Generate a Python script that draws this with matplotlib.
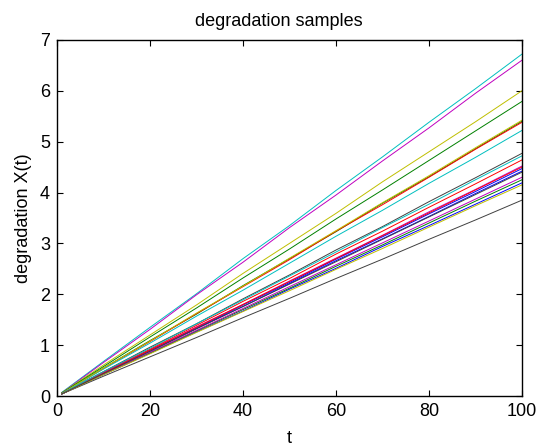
import numpy as np
import matplotlib
matplotlib.use('Agg')
import matplotlib.pyplot as plt

plt.rcParams['font.family'] = ['Liberation Sans', 'DejaVu Sans']

# sample times and degradation paths
t = [1, 10, 20, 30, 40, 50, 60, 70, 80, 90, 100]
paths = [
    [0.05, 0.46, 0.90, 1.33, 1.79, 2.23, 2.69, 3.13, 3.58, 4.02, 4.47],
    [0.06, 0.55, 1.09, 1.61, 2.17, 2.70, 3.23, 3.79, 4.31, 4.86, 5.40],
    [0.05, 0.54, 1.07, 1.62, 2.15, 2.68, 3.24, 3.76, 4.30, 4.85, 5.38],
    [0.07, 0.68, 1.35, 2.01, 2.70, 3.35, 4.04, 4.70, 5.38, 6.04, 6.72],
    [0.06, 0.66, 1.31, 1.99, 2.63, 3.31, 3.95, 4.62, 5.27, 5.95, 6.60],
    [0.06, 0.61, 1.20, 1.79, 2.41, 3.00, 3.59, 4.21, 4.80, 5.39, 6.00],
    [0.05, 0.48, 0.96, 1.42, 1.91, 2.38, 2.87, 3.33, 3.82, 4.29, 4.77],
    [0.04, 0.45, 0.88, 1.33, 1.76, 2.21, 2.66, 3.09, 3.53, 3.98, 4.42],
    [0.06, 0.58, 1.16, 1.73, 2.32, 2.89, 3.48, 4.05, 4.63, 5.21, 5.79],
    [0.05, 0.47, 0.92, 1.39, 1.86, 2.31, 2.79, 3.24, 3.71, 4.17, 4.64],
    [0.05, 0.53, 1.04, 1.57, 2.08, 2.61, 3.14, 3.65, 4.18, 4.69, 5.22],
    [0.04, 0.46, 0.90, 1.36, 1.80, 2.26, 2.71, 3.16, 3.62, 4.06, 4.52],
    [0.05, 0.55, 1.08, 1.63, 2.16, 2.71, 3.25, 3.80, 4.33, 4.88, 5.42],
    [0.04, 0.39, 0.77, 1.15, 1.54, 1.92, 2.31, 2.69, 3.08, 3.46, 3.85],
    [0.04, 0.42, 0.84, 1.26, 1.67, 2.10, 2.51, 2.94, 3.35, 3.77, 4.19],
    [0.04, 0.43, 0.85, 1.28, 1.70, 2.12, 2.55, 2.97, 3.40, 3.83, 4.25],
    [0.05, 0.45, 0.90, 1.35, 1.80, 2.25, 2.70, 3.15, 3.60, 4.05, 4.50],
    [0.05, 0.48, 0.94, 1.42, 1.89, 2.36, 2.83, 3.31, 3.77, 4.25, 4.72],
    [0.04, 0.43, 0.86, 1.29, 1.72, 2.15, 2.58, 3.01, 3.44, 3.87, 4.30],
    [0.04, 0.42, 0.83, 1.25, 1.66, 2.07, 2.49, 2.90, 3.32, 3.74, 4.15],
    [0.04, 0.44, 0.88, 1.32, 1.76, 2.20, 2.64, 3.08, 3.52, 3.96, 4.40],
]
# old matlab colour order b g r c m y k
colors = [(0, 0, 1), (0, 0.5, 0), (1, 0, 0), (0, 0.75, 0.75),
          (0.75, 0, 0.75), (0.75, 0.75, 0), (0.25, 0.25, 0.25)]

fig = plt.figure(figsize=(5.4, 4.48), dpi=100)
ax = fig.add_axes([0.1056, 0.116, 0.861, 0.795])

for i, p in enumerate(paths):
    ax.plot(t, p, color=colors[i % 7], lw=0.7)

ax.set_xlim(0, 100)
ax.set_ylim(0, 7)
ax.set_xticks([0, 20, 40, 60, 80, 100])
ax.set_yticks(range(8))
ax.tick_params(direction='in', top=True, right=True, length=4, width=0.8,
               labelsize=13, pad=5)
for s in ax.spines.values():
    s.set_linewidth(1.0)

ax.set_title('degradation samples', fontsize=13, x=0.478, pad=10)
ax.set_xlabel('t', fontsize=13, labelpad=7)
ax.set_ylabel('degradation X(t)', fontsize=13, labelpad=6)

fig.savefig('out.png', dpi=100)
